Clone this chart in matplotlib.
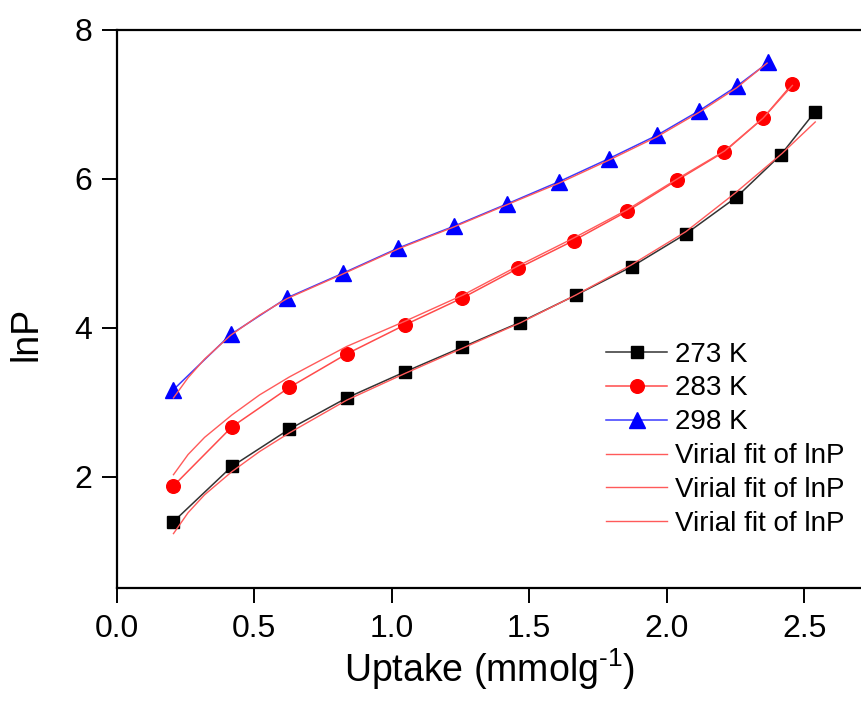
import matplotlib
matplotlib.use("Agg")
import matplotlib.pyplot as plt
from matplotlib.ticker import FormatStrFormatter

plt.rcParams['font.family'] = ['Liberation Sans', 'DejaVu Sans']
plt.rcParams['mathtext.fontset'] = 'custom'
plt.rcParams['mathtext.rm'] = 'Liberation Sans'
plt.rcParams['mathtext.it'] = 'Liberation Sans'

# Measured isotherm points: uptake (mmol/g) vs lnP
uptake_273 = [0.207, 0.419, 0.628, 0.837, 1.049, 1.257, 1.465, 1.671, 1.873, 2.070, 2.253, 2.415, 2.540]
lnp_273 = [1.40, 2.14, 2.64, 3.06, 3.41, 3.74, 4.07, 4.44, 4.82, 5.26, 5.75, 6.32, 6.90]

uptake_283 = [0.207, 0.419, 0.628, 0.837, 1.049, 1.257, 1.461, 1.662, 1.855, 2.038, 2.209, 2.350, 2.457]
lnp_283 = [1.88, 2.67, 3.20, 3.65, 4.04, 4.40, 4.80, 5.17, 5.56, 5.98, 6.36, 6.81, 7.27]

uptake_298 = [0.204, 0.415, 0.619, 0.822, 1.025, 1.225, 1.419, 1.609, 1.791, 1.964, 2.118, 2.255, 2.370]
lnp_298 = [3.16, 3.91, 4.40, 4.73, 5.07, 5.36, 5.66, 5.96, 6.27, 6.58, 6.91, 7.24, 7.56]

# Virial fit curves
fit_x_273 = [0.207, 0.26, 0.32, 0.419, 0.52, 0.628, 0.837, 1.05, 1.26, 1.47, 1.67, 1.87, 2.07, 2.25, 2.42, 2.54]
fit_y_273 = [1.24, 1.52, 1.76, 2.07, 2.34, 2.59, 3.03, 3.39, 3.73, 4.07, 4.44, 4.84, 5.29, 5.81, 6.34, 6.76]

fit_x_283 = [0.207, 0.26, 0.32, 0.419, 0.52, 0.628, 0.704, 0.837, 1.05, 1.26, 1.46, 1.66, 1.855, 2.04, 2.21, 2.35, 2.457]
fit_y_283 = [2.03, 2.30, 2.53, 2.83, 3.10, 3.34, 3.49, 3.75, 4.09, 4.44, 4.83, 5.20, 5.58, 6.00, 6.37, 6.81, 7.25]

fit_x_298 = [0.207, 0.26, 0.32, 0.415, 0.52, 0.619, 0.822, 1.025, 1.225, 1.419, 1.609, 1.791, 1.964, 2.118, 2.255, 2.365]
fit_y_298 = [3.06, 3.33, 3.58, 3.90, 4.17, 4.39, 4.72, 5.06, 5.35, 5.65, 5.94, 6.25, 6.56, 6.89, 7.22, 7.55]

x_ticks = [0.0, 0.5, 1.0, 1.5, 2.0, 2.5]
y_ticks = [2, 4, 6, 8]

fig = plt.figure(figsize=(8.62, 7.13), dpi=100)
ax = fig.add_axes([0.1352, 0.1753, 0.8648, 0.7833])

ax.plot(uptake_273, lnp_273, color='#333333', lw=1.1, marker='s', ms=8.6,
        mfc='black', mec='black', label='273 K', zorder=3)
ax.plot(uptake_283, lnp_283, color='#ff4a4a', lw=1.1, marker='o', ms=9.8,
        mfc='#ff0000', mec='#ff0000', label='283 K', zorder=3)
ax.plot(uptake_298, lnp_298, color='#3a3aff', lw=1.1, marker='^', ms=11.5,
        mfc='#0000ff', mec='#0000ff', label='298 K', zorder=3)

fit_color = '#ff5a5a'
ax.plot(fit_x_273, fit_y_273, color=fit_color, lw=1.0, label='Virial fit of lnP', zorder=4)
ax.plot(fit_x_283, fit_y_283, color=fit_color, lw=1.0, label='Virial fit of lnP', zorder=4)
ax.plot(fit_x_298, fit_y_298, color=fit_color, lw=1.0, label='Virial fit of lnP', zorder=4)

ax.set_xlim(0, 2.71)
ax.set_ylim(0.51, 8.0)
ax.set_xticks(x_ticks)
ax.set_yticks(y_ticks)
ax.xaxis.set_major_formatter(FormatStrFormatter('%.1f'))

for side in ('left', 'bottom', 'top'):
    ax.spines[side].set_linewidth(1.6)
ax.spines['right'].set_visible(False)

ax.tick_params(axis='both', which='major', direction='out', length=10.5, width=1.4,
               labelsize=23, colors='black')
ax.tick_params(axis='x', pad=8)
ax.tick_params(axis='y', pad=7)

ax.set_xlabel('Uptake (mmolg$^{\u2010\\mathregular{1}}$)', fontsize=27, labelpad=2)
ax.set_ylabel('lnP', fontsize=27)
ax.yaxis.set_label_coords(-0.097, 0.455)

leg = ax.legend(loc='upper left', bbox_to_anchor=(606 / 862, 1 - 341.5 / 713),
                bbox_transform=fig.transFigure, frameon=False, fontsize=20,
                handlelength=2.2, handletextpad=0.3, labelspacing=0.285,
                borderpad=0, borderaxespad=0)

fig.savefig('out.png', dpi=100)
